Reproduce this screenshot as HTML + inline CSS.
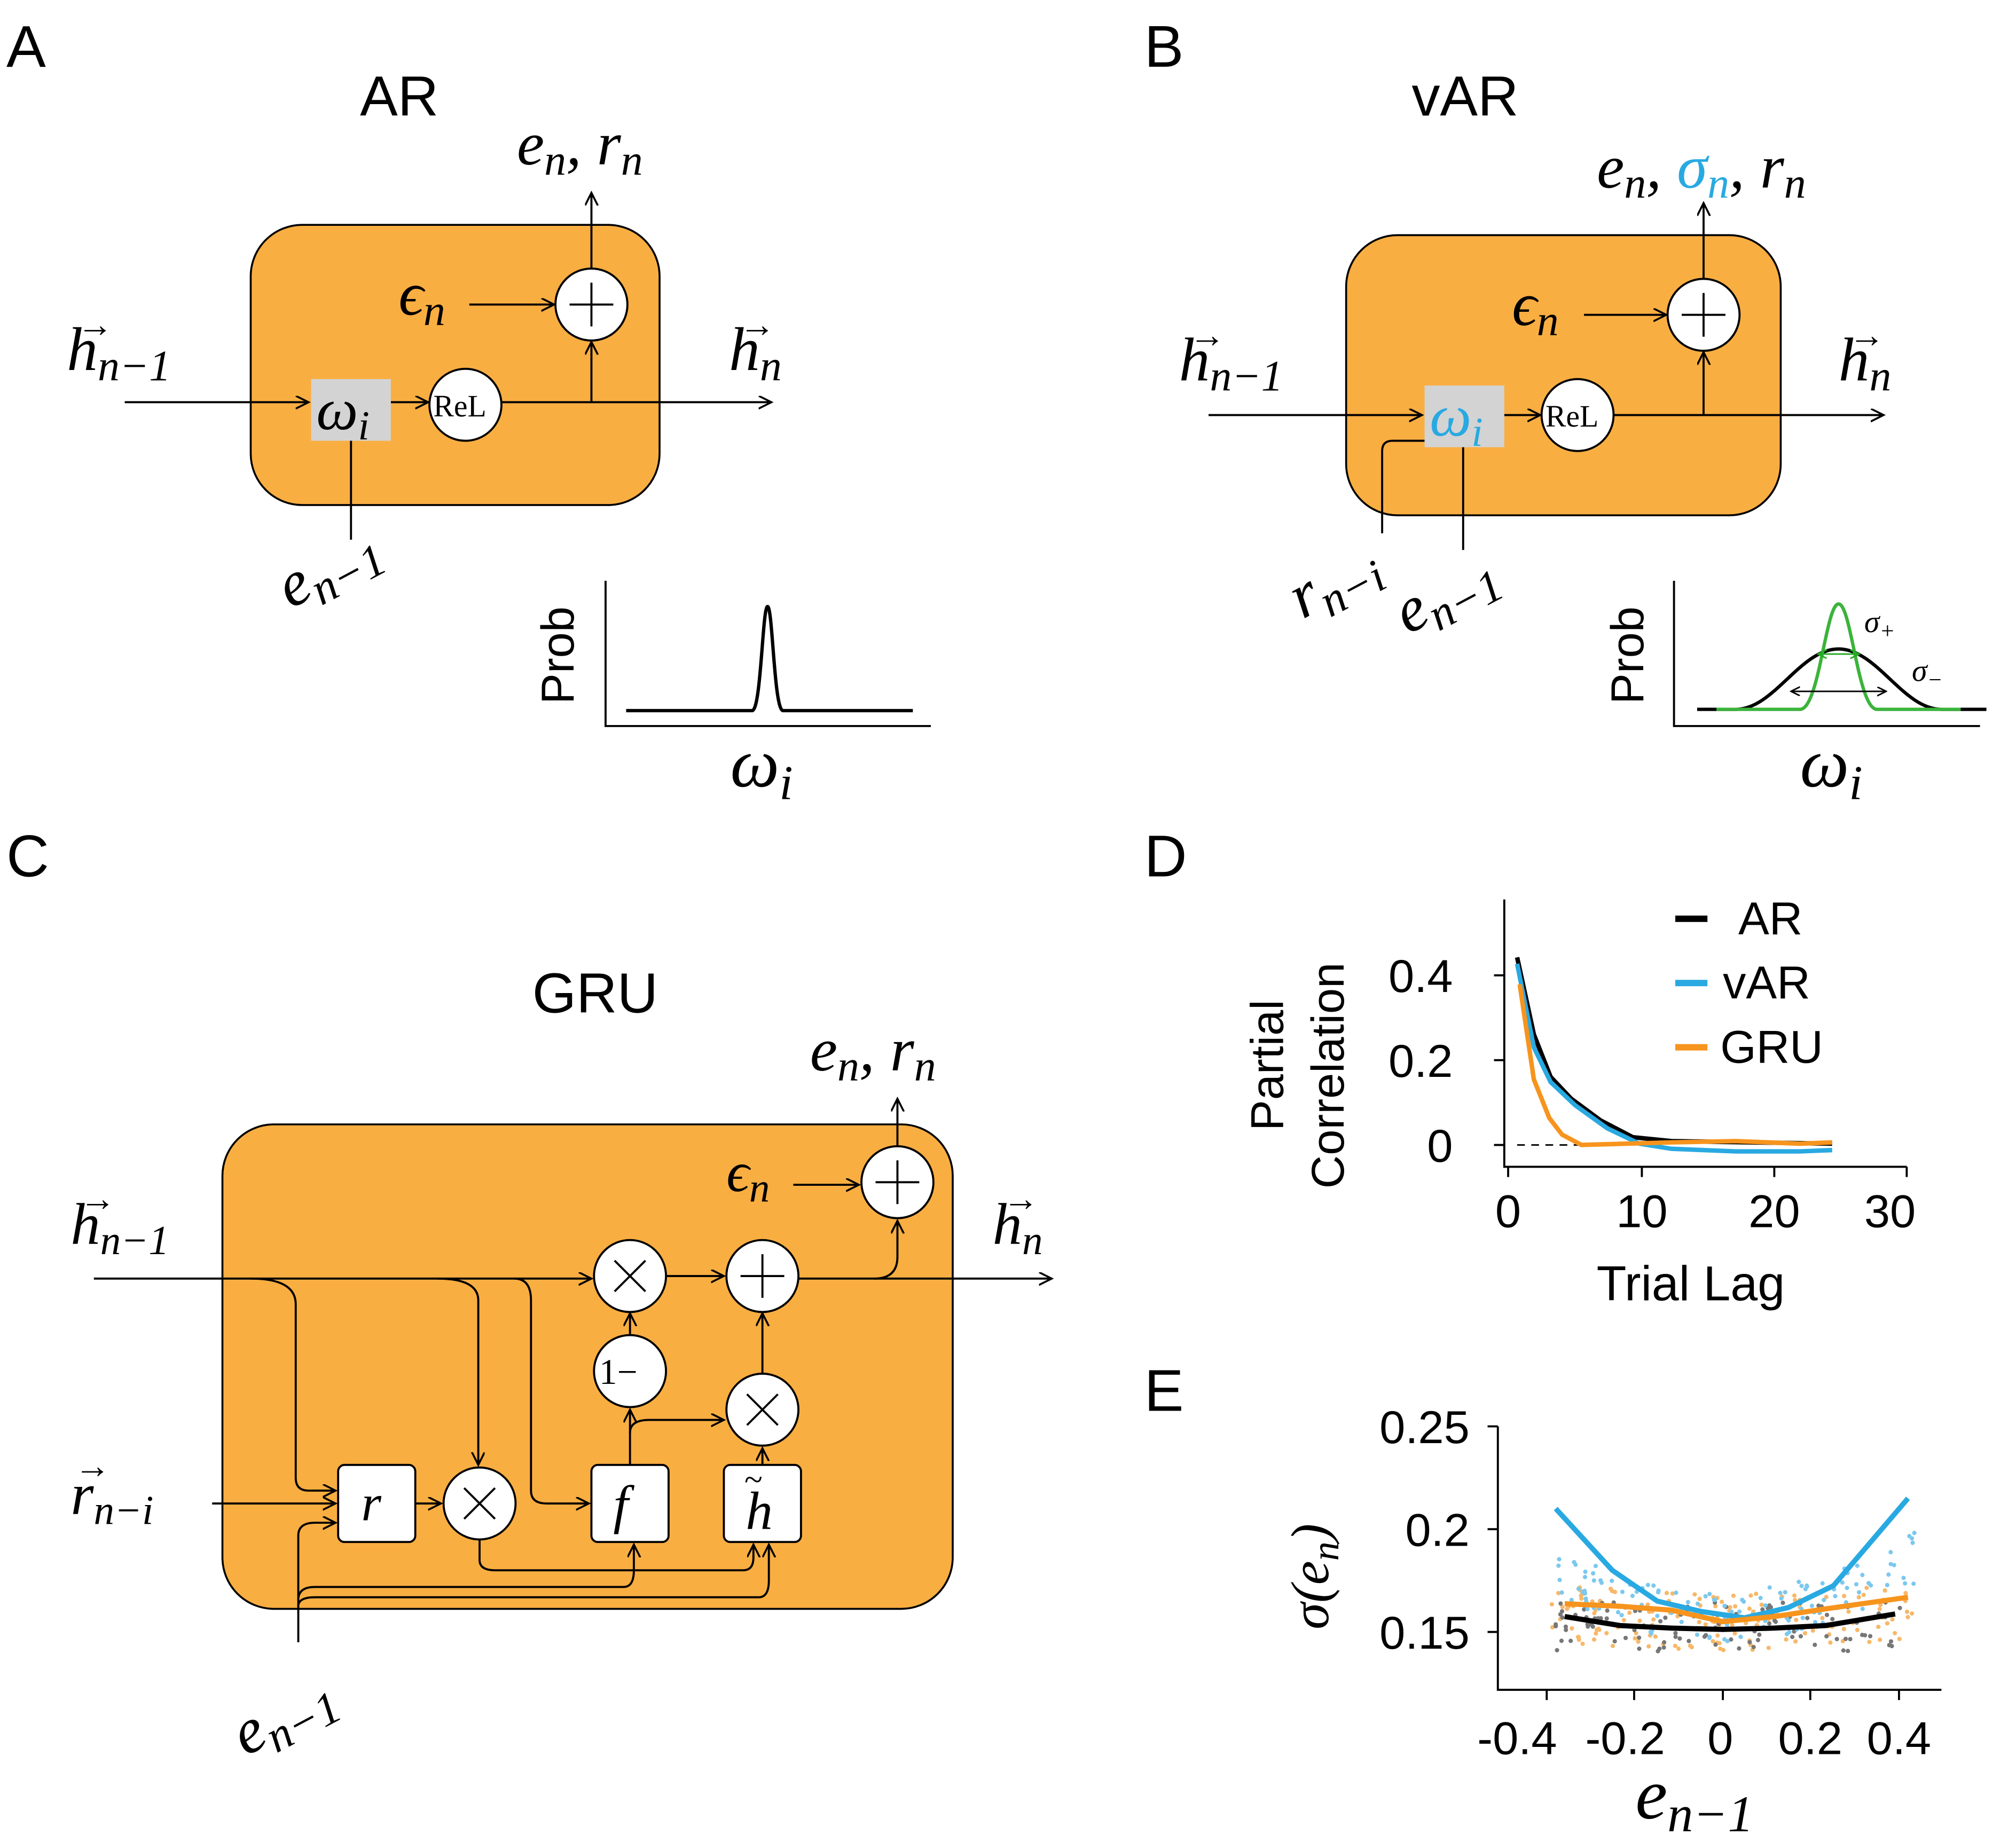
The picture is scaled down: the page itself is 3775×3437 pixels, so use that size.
<!DOCTYPE html>
<html><head><meta charset="utf-8"><style>
html,body{margin:0;padding:0;background:#fff}
svg{display:block}
.s{font-family:"Liberation Sans",sans-serif}
.m{font-family:"Liberation Serif",serif;font-style:italic}
.r{font-family:"Liberation Serif",serif}
</style></head><body>
<svg id="sv" width="3775" height="3437" viewBox="0 0 1568 1428" preserveAspectRatio="none" xmlns="http://www.w3.org/2000/svg">
<defs>
<marker id="a" markerWidth="12" markerHeight="12" refX="10" refY="5" orient="auto" markerUnits="userSpaceOnUse"><path d="M0,0 L10,5 L0,10" fill="none" stroke="#000" stroke-width="1.5"/></marker>
<marker id="g" markerWidth="8" markerHeight="8" refX="7" refY="3.5" orient="auto-start-reverse" markerUnits="userSpaceOnUse"><path d="M0,0 L7,3.5 L0,7" fill="none" stroke="#2a2" stroke-width="1.2"/></marker>
<marker id="k" markerWidth="8" markerHeight="8" refX="7" refY="3.5" orient="auto-start-reverse" markerUnits="userSpaceOnUse"><path d="M0,0 L7,3.5 L0,7" fill="none" stroke="#000" stroke-width="1.2"/></marker>
</defs>
<g fill="none" stroke="#000" stroke-width="1.6">
<rect x="195" y="175" width="318" height="218" rx="40" fill="#F9AE42" stroke="#000" stroke-width="1.5"/>
<line x1="97" y1="313" x2="240" y2="313" marker-end="url(#a)"/>
<line x1="390" y1="313" x2="600" y2="313" marker-end="url(#a)"/>
<line x1="304" y1="313" x2="333" y2="313" marker-end="url(#a)"/>
<line x1="460" y1="313" x2="460" y2="266" marker-end="url(#a)"/>
<line x1="460" y1="209" x2="460" y2="150" marker-end="url(#a)"/>
<line x1="365" y1="237" x2="431" y2="237" marker-end="url(#a)"/>
<line x1="273" y1="343" x2="273" y2="420"/>
<rect x="242" y="295" width="62" height="48" fill="#d3d3d3" stroke="none"/>
<circle cx="460" cy="237" r="28" fill="#fff"/>
<path d="M443,237 H477 M460,220 V254"/>
<circle cx="362" cy="315" r="28" fill="#fff"/>
<path d="M471,452 V565 H724"/>
<path d="M487,553 H585 C592,553 593,472 597,472 C601,472 602,553 609,553 H710" stroke-width="2.6"/>
<rect x="1047" y="183" width="338" height="218" rx="40" fill="#F9AE42" stroke="#000" stroke-width="1.5"/>
<line x1="940" y1="323" x2="1106" y2="323" marker-end="url(#a)"/>
<line x1="1255" y1="323" x2="1465" y2="323" marker-end="url(#a)"/>
<line x1="1170" y1="323" x2="1198" y2="323" marker-end="url(#a)"/>
<line x1="1325" y1="323" x2="1325" y2="274" marker-end="url(#a)"/>
<line x1="1325" y1="217" x2="1325" y2="158" marker-end="url(#a)"/>
<line x1="1232" y1="245" x2="1296" y2="245" marker-end="url(#a)"/>
<path d="M1108,343 H1083 Q1075,343 1075,351 V415"/>
<line x1="1138" y1="348" x2="1138" y2="428"/>
<rect x="1108" y="300" width="62" height="48" fill="#d3d3d3" stroke="none"/>
<circle cx="1325" cy="245" r="28" fill="#fff"/>
<path d="M1308,245 H1342 M1325,228 V262"/>
<circle cx="1227" cy="323" r="28" fill="#fff"/>
<path d="M1302,452 V565 H1540"/>
<path d="M1320,552 H1350 C1380,552 1400,505 1430,505 C1460,505 1480,552 1510,552 H1545" stroke-width="2.6"/>
<path d="M1335,552 H1400 C1415,552 1420,470 1430,470 C1440,470 1445,552 1460,552 H1525" stroke="#3bb33b" stroke-width="2.6"/>
<line x1="1414" y1="509" x2="1446" y2="509" stroke="#2a2" stroke-width="1.2" marker-start="url(#g)" marker-end="url(#g)"/>
<line x1="1393" y1="538" x2="1467" y2="538" stroke-width="1.2" marker-start="url(#k)" marker-end="url(#k)"/>
<rect x="173" y="875" width="568" height="377" rx="40" fill="#F9AE42" stroke="#000" stroke-width="1.5"/>
<line x1="73" y1="995" x2="460" y2="995" marker-end="url(#a)"/>
<line x1="518" y1="993" x2="563" y2="993" marker-end="url(#a)"/>
<line x1="621" y1="995" x2="818" y2="995" marker-end="url(#a)"/>
<path d="M680,995 Q698,995 698,978 V950" marker-end="url(#a)"/>
<line x1="698" y1="892" x2="698" y2="855" marker-end="url(#a)"/>
<line x1="617" y1="922" x2="668" y2="922" marker-end="url(#a)"/>
<path d="M195,995 Q230,995 230,1015 V1150 Q230,1160 240,1160 H261" marker-end="url(#a)"/>
<path d="M340,995 Q372,995 372,1012 V1140" marker-end="url(#a)"/>
<path d="M400,995 Q413,995 413,1012 V1160 Q413,1170 425,1170 H458" marker-end="url(#a)"/>
<line x1="165" y1="1170" x2="261" y2="1170" marker-end="url(#a)"/>
<line x1="323" y1="1170" x2="343" y2="1170" marker-end="url(#a)"/>
<path d="M373,1198 V1214 Q373,1222 385,1222 H578 Q586,1222 586,1212 V1202" marker-end="url(#a)"/>
<path d="M232,1278 V1195 Q232,1185 245,1185 H261" marker-end="url(#a)"/>
<path d="M232,1245 Q232,1235 245,1235 H485 Q493,1235 493,1222 V1202" marker-end="url(#a)"/>
<path d="M232,1250 Q232,1243 245,1243 H590 Q598,1243 598,1230 V1202" marker-end="url(#a)"/>
<line x1="490" y1="1140" x2="490" y2="1097" marker-end="url(#a)"/>
<path d="M490,1115 Q490,1105 505,1105 H563" marker-end="url(#a)"/>
<line x1="490" y1="1039" x2="490" y2="1022" marker-end="url(#a)"/>
<line x1="593" y1="1140" x2="593" y2="1127" marker-end="url(#a)"/>
<line x1="593" y1="1069" x2="593" y2="1022" marker-end="url(#a)"/>
<circle cx="490" cy="993" r="28" fill="#fff"/>
<path d="M478,981 L502,1005 M502,981 L478,1005"/>
<circle cx="593" cy="993" r="28" fill="#fff"/>
<path d="M576,993 H610 M593,976 V1010"/>
<circle cx="698" cy="920" r="28" fill="#fff"/>
<path d="M681,920 H715 M698,903 V937"/>
<circle cx="490" cy="1067" r="28" fill="#fff"/>
<circle cx="593" cy="1097" r="28" fill="#fff"/>
<path d="M581,1085 L605,1109 M605,1085 L581,1109"/>
<circle cx="373" cy="1170" r="28" fill="#fff"/>
<path d="M361,1158 L385,1182 M385,1158 L361,1182"/>
<rect x="263" y="1140" width="60" height="60" rx="5" fill="#fff"/>
<rect x="460" y="1140" width="60" height="60" rx="5" fill="#fff"/>
<rect x="563" y="1140" width="60" height="60" rx="5" fill="#fff"/>
<path d="M1170,700 V908 H1483 M1173,908 V916 M1277,908 V916 M1380,908 V916 M1483,908 V916 M1162,759 H1170 M1162,825 H1170 M1162,891 H1170"/>
<line x1="1180" y1="891" x2="1235" y2="891" stroke-dasharray="6,5" stroke-width="1.2"/>
<polyline points="1180,745 1193,805 1206,838 1222,855 1245,872 1270,885 1300,888 1425,890" stroke-width="3.5"/>
<polyline points="1180,750 1193,815 1206,842 1225,860 1250,878 1275,890 1300,894 1350,896 1400,896 1425,895" stroke="#29A9E1" stroke-width="3.5"/>
<polyline points="1182,766 1193,840 1205,870 1215,883 1230,891 1300,889 1350,888 1400,890 1425,889" stroke="#F7941D" stroke-width="3.5"/>
<line x1="1303" y1="715" x2="1328" y2="715" stroke-width="5"/>
<line x1="1303" y1="765" x2="1328" y2="765" stroke="#29A9E1" stroke-width="5"/>
<line x1="1303" y1="815" x2="1328" y2="815" stroke="#F7941D" stroke-width="5"/>
<path d="M1165,1110 V1315 H1510 M1203,1315 V1323 M1271,1315 V1323 M1340,1315 V1323 M1408,1315 V1323 M1477,1315 V1323 M1157,1110 H1165 M1157,1190 H1165 M1157,1270 H1165"/>
<g id="dots" stroke="none"></g>
<polyline points="1210,1174 1254,1222 1289,1246 1323,1254 1357,1259 1391,1251 1426,1234 1484,1166" stroke="#29A9E1" stroke-width="4"/>
<polyline points="1217,1248 1260,1250 1300,1253 1340,1262 1380,1258 1420,1252 1484,1243" stroke="#F7941D" stroke-width="4"/>
<polyline points="1217,1258 1260,1265 1300,1267 1340,1268 1380,1267 1420,1265 1474,1256" stroke="#000" stroke-width="4"/>
</g>
<g fill="#000">
<text class="s" x="5" y="52" font-size="46">A</text>
<text class="s" x="890" y="52" font-size="46">B</text>
<text class="s" x="5" y="682" font-size="46">C</text>
<text class="s" x="890" y="682" font-size="46">D</text>
<text class="s" x="890" y="1098" font-size="46">E</text>
<text class="s" x="280" y="90" font-size="44">AR</text>
<text class="s" x="1098" y="90" font-size="44">vAR</text>
<text class="s" x="414" y="788" font-size="44">GRU</text>
<text class="m" x="402" y="128" font-size="48">e<tspan font-size="34" dy="8">n</tspan><tspan dy="-8">, r</tspan><tspan font-size="34" dy="8">n</tspan></text>
<text class="m" x="1242" y="146" font-size="48">e<tspan font-size="34" dy="8">n</tspan><tspan dy="-8">, </tspan><tspan fill="#29A9E1">σ</tspan><tspan fill="#29A9E1" font-size="34" dy="8">n</tspan><tspan dy="-8">, r</tspan><tspan font-size="34" dy="8">n</tspan></text>
<text class="m" x="630" y="833" font-size="48">e<tspan font-size="34" dy="8">n</tspan><tspan dy="-8">, r</tspan><tspan font-size="34" dy="8">n</tspan></text>
<text class="m" x="310" y="245" font-size="48">ϵ<tspan font-size="34" dy="8">n</tspan></text>
<text class="m" x="1176" y="253" font-size="48">ϵ<tspan font-size="34" dy="8">n</tspan></text>
<text class="m" x="565" y="927" font-size="44">ϵ<tspan font-size="32" dy="8">n</tspan></text>
<text class="m" x="52" y="288" font-size="48">h<tspan font-size="34" dy="8">n−1</tspan></text>
<text class="r" x="60" y="262" font-size="28">→</text>
<text class="m" x="567" y="288" font-size="48">h<tspan font-size="34" dy="8">n</tspan></text>
<text class="r" x="575" y="262" font-size="28">→</text>
<text class="m" x="917" y="296" font-size="48">h<tspan font-size="34" dy="8">n−1</tspan></text>
<text class="r" x="925" y="270" font-size="28">→</text>
<text class="m" x="1430" y="296" font-size="48">h<tspan font-size="34" dy="8">n</tspan></text>
<text class="r" x="1438" y="270" font-size="28">→</text>
<text class="m" x="55" y="968" font-size="46">h<tspan font-size="32" dy="8">n−1</tspan></text>
<text class="r" x="62" y="942" font-size="28">→</text>
<text class="m" x="772" y="968" font-size="46">h<tspan font-size="32" dy="8">n</tspan></text>
<text class="r" x="780" y="942" font-size="28">→</text>
<text class="m" x="55" y="1178" font-size="46">r<tspan font-size="32" dy="8">n−i</tspan></text>
<text class="r" x="58" y="1150" font-size="28">→</text>
<text class="m" x="246" y="334" font-size="46">ω<tspan font-size="32" dy="8">i</tspan></text>
<text class="m" x="1112" y="339" font-size="46" fill="#29A9E1">ω<tspan font-size="32" dy="8">i</tspan></text>
<text class="r" x="337" y="324" font-size="24">ReL</text>
<text class="r" x="1202" y="332" font-size="24">ReL</text>
<text class="r" x="466" y="1077" font-size="28">1−</text>
<text class="m" x="281" y="1183" font-size="40">r</text>
<text class="m" x="477" y="1185" font-size="42">f</text>
<text class="m" x="580" y="1190" font-size="42">h</text>
<text class="r" x="579" y="1160" font-size="26">~</text>
<text class="m" transform="translate(226,474) rotate(-28)" font-size="50">e<tspan font-size="36" dy="9">n−1</tspan></text>
<text class="m" transform="translate(1013,482) rotate(-28)" font-size="50">r<tspan font-size="36" dy="9">n−i</tspan></text>
<text class="m" transform="translate(1095,494) rotate(-28)" font-size="50">e<tspan font-size="36" dy="9">n−1</tspan></text>
<text class="m" transform="translate(191,1367) rotate(-28)" font-size="50">e<tspan font-size="36" dy="9">n−1</tspan></text>
<text class="s" transform="translate(446,548) rotate(-90)" font-size="36">Prob</text>
<text class="s" transform="translate(1278,548) rotate(-90)" font-size="36">Prob</text>
<text class="m" x="568" y="612" font-size="54">ω<tspan font-size="38" dy="10">i</tspan></text>
<text class="m" x="1400" y="612" font-size="54">ω<tspan font-size="38" dy="10">i</tspan></text>
<text class="m" x="1450" y="492" font-size="24">σ<tspan font-size="18" dy="5">+</tspan></text>
<text class="m" x="1487" y="530" font-size="24">σ<tspan font-size="18" dy="5">−</tspan></text>
<text class="s" transform="translate(998,880) rotate(-90)" font-size="36">Partial</text>
<text class="s" transform="translate(1045,925) rotate(-90)" font-size="36">Correlation</text>
<text class="s" x="1130" y="772" font-size="36" text-anchor="end">0.4</text>
<text class="s" x="1130" y="838" font-size="36" text-anchor="end">0.2</text>
<text class="s" x="1130" y="904" font-size="36" text-anchor="end">0</text>
<text class="s" x="1173" y="955" font-size="36" text-anchor="middle">0</text>
<text class="s" x="1277" y="955" font-size="36" text-anchor="middle">10</text>
<text class="s" x="1380" y="955" font-size="36" text-anchor="middle">20</text>
<text class="s" x="1470" y="955" font-size="36" text-anchor="middle">30</text>
<text class="s" x="1315" y="1012" font-size="38" text-anchor="middle">Trial Lag</text>
<text class="s" x="1352" y="727" font-size="36">AR</text>
<text class="s" x="1340" y="777" font-size="36">vAR</text>
<text class="s" x="1338" y="827" font-size="36">GRU</text>
<text class="s" x="1143" y="1123" font-size="36" text-anchor="end">0.25</text>
<text class="s" x="1143" y="1203" font-size="36" text-anchor="end">0.2</text>
<text class="s" x="1143" y="1283" font-size="36" text-anchor="end">0.15</text>
<text class="s" x="1180" y="1365" font-size="36" text-anchor="middle">-0.4</text>
<text class="s" x="1264" y="1365" font-size="36" text-anchor="middle">-0.2</text>
<text class="s" x="1338" y="1365" font-size="36" text-anchor="middle">0</text>
<text class="s" x="1408" y="1365" font-size="36" text-anchor="middle">0.2</text>
<text class="s" x="1477" y="1365" font-size="36" text-anchor="middle">0.4</text>
<text class="m" transform="translate(1033,1268) rotate(-90)" font-size="42">σ(e<tspan font-size="30" dy="8">n</tspan><tspan dy="-8">)</tspan></text>
<text class="m" x="1272" y="1415" font-size="56">e<tspan font-size="40" dy="10">n−1</tspan></text>
</g>
</svg>
<script>
(function(){var s=7;function r(){s=(s*9301+49297)%233280;return s/233280;}
var g=document.getElementById('dots'),ns='http://www.w3.org/2000/svg';
function add(cx,cy,c){var e=document.createElementNS(ns,'circle');e.setAttribute('cx',cx);e.setAttribute('cy',cy);e.setAttribute('r',1.7);e.setAttribute('fill',c);g.appendChild(e);}
for(var i=0;i<160;i++){var x=1205+r()*290;var t=(x-1340)/140;add(x,1262+(r()-0.5)*45-(t*t*8),'#F7B86A');}
for(var i=0;i<110;i++){var x=1210+r()*270;add(x,1266+(r()-0.5)*38,'#777');}
for(var i=0;i<130;i++){var x=1205+r()*290;var t=(x-1340)/140;add(x,1258-t*t*40+(r()-0.5)*40,'#7CC8EE');}
})();
</script>
</body></html>
